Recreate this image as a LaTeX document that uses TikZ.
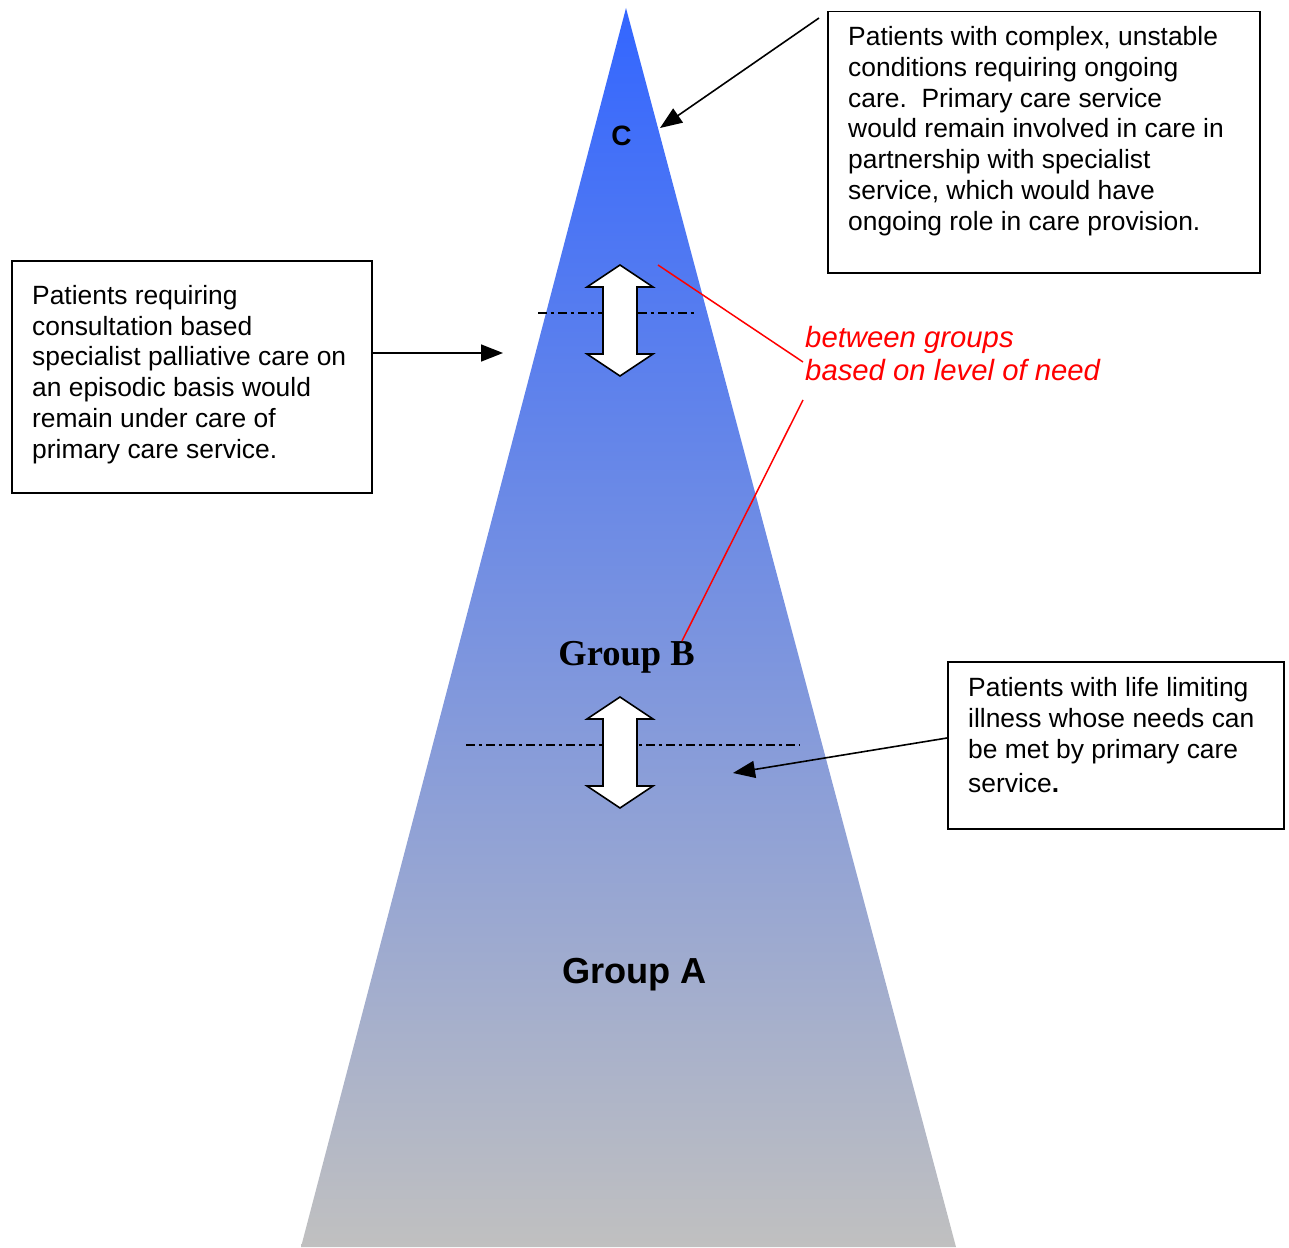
\documentclass[tikz,border=0pt]{standalone}
\usepackage{fontspec}
\setmainfont{Liberation Sans}
\newfontfamily\timesf{Liberation Serif}
\usetikzlibrary{arrows.meta}
\definecolor{topblue}{HTML}{3366FF}
\definecolor{botgrey}{HTML}{C0C0C0}
\definecolor{redline}{HTML}{FF0000}
\tikzset{
  boxst/.style={draw=black, line width=1.5pt, fill=white, inner sep=0pt, anchor=north west},
  txt/.style={anchor=base west, align=left, inner sep=0pt, font=\fontsize{26.4}{30.7}\selectfont},
  arr/.style={draw=black, line width=1.6pt, -{Triangle[length=22pt,width=17pt]}},
  redst/.style={draw=redline, line width=1.5pt},
  dashst/.style={draw=black, line width=1.8pt, dash pattern=on 8.5pt off 4pt on 3.5pt off 4pt},
  blockarr/.style={draw=black, line width=1.6pt, fill=white, line join=miter}
}
\newcommand\dblarr[3]{% x, top tip y, bottom tip y
  \path[blockarr] (#1,-#2) -- ++(33,-22) -- ++(-16,0) -- (#1+17,-#3+22) -- ++(16,0)
    -- (#1,-#3) -- ++(-33,22) -- ++(16,0) -- (#1-17,-#2-22) -- ++(-16,0) -- cycle;}
\begin{document}
\begin{tikzpicture}[x=1pt,y=1pt]
\useasboundingbox (0,0) rectangle (1289,-1247);
% triangle
\shade[top color=topblue, bottom color=botgrey] (626,-8) -- (301,-1247) -- (956,-1247) -- cycle;
% labels inside triangle
\node[anchor=base, inner sep=0pt, font=\fontsize{28}{32}\selectfont\bfseries] (lc) at (621.5,-145) {C};
\node[anchor=base, inner sep=0pt, font=\timesf\fontsize{36.5}{40}\selectfont\bfseries] (lb) at (626.5,-665) {Group B};
\node[anchor=base, inner sep=0pt, font=\fontsize{36.2}{40}\selectfont\bfseries] (la) at (634.5,-983) {Group A};
% dash-dot separators
\coordinate (d1a) at (538,-313); \coordinate (d1b) at (695,-313);
\coordinate (d2a) at (466,-745); \coordinate (d2b) at (800,-745);
\draw[dashst] (d1a) -- (d1b);
\draw[dashst] (d2a) -- (d2b);
% block double arrows
\dblarr{620}{265}{376}
\dblarr{620}{697}{808}
% boxes (text anchored at the baseline of the last line)
\node[boxst, minimum width=432pt, minimum height=261pt] (tr) at (827,-11) {};
\node[txt] (trt) at (848,-230) {Patients with complex, unstable\\conditions requiring ongoing\\care.\ \ Primary care service\\would remain involved in care in\\partnership with specialist\\service, which would have\\ongoing role in care provision.};
\node[boxst, minimum width=360pt, minimum height=232pt] (lf) at (11,-260) {};
\node[txt] (lft) at (32,-458) {Patients requiring\\consultation based\\specialist palliative care on\\an episodic basis would\\remain under care of\\primary care service.};
\node[boxst, minimum width=336pt, minimum height=167pt] (br) at (947,-661) {};
\node[txt] (brt) at (968,-792) {Patients with life limiting\\illness whose needs can\\be met by primary care\\[3pt]service\textbf{.}};
% red annotation
\node[anchor=base west, align=left, inner sep=0pt, text=redline, font=\fontsize{29.3}{33}\selectfont\itshape] (rt) at (805,-380) {between groups\\based on level of need};
\coordinate (r1a) at (658,-265); \coordinate (r1b) at (803,-362);
\coordinate (r2a) at (803,-400); \coordinate (r2b) at (682,-641);
\draw[redst] (r1a) -- (r1b);
\draw[redst] (r2a) -- (r2b);
% pointer arrows
\coordinate (a1s) at (819,-18); \coordinate (a1e) at (660,-128);
\draw[arr] (a1s) -- (a1e);
\coordinate (a2s) at (371,-353); \coordinate (a2e) at (503,-353);
\draw[arr] (a2s) -- (a2e);
\coordinate (a3s) at (947,-738); \coordinate (a3e) at (733,-773);
\draw[arr] (a3s) -- (a3e);
\end{tikzpicture}
\end{document}
